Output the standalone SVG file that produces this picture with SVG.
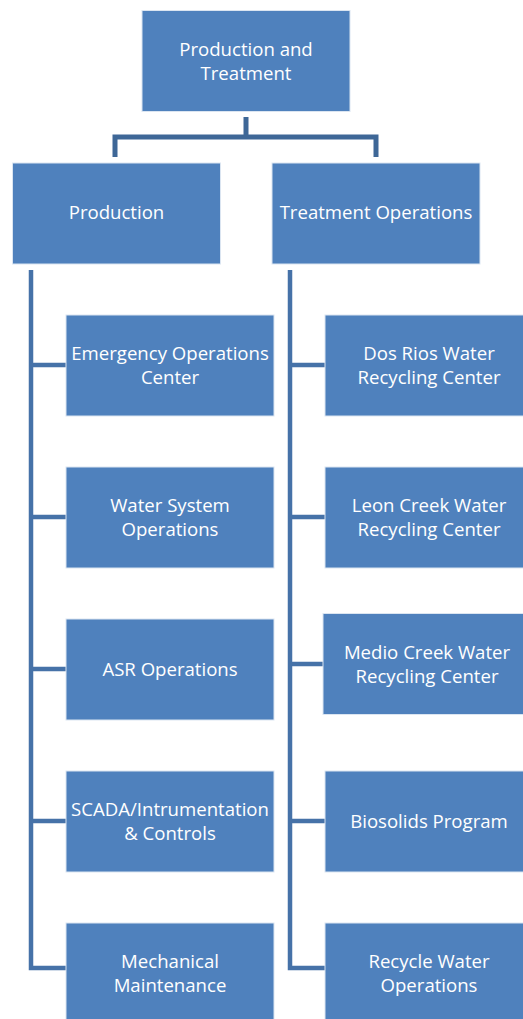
<svg xmlns="http://www.w3.org/2000/svg" width="523" height="1019" viewBox="0 0 523 1019">
<style>
.box{fill:#4f81bd;stroke:#dbe5f1;stroke-width:1}
.t{font-family:"Open Sans","Liberation Sans",sans-serif;font-size:18.6px;fill:#ffffff;text-anchor:middle}
.c{fill:none;stroke:#4672a8;stroke-width:4.5;stroke-linejoin:miter}
.ct{fill:none;stroke:#3e6797;stroke-width:5}
</style>
<rect width="523" height="1019" fill="#ffffff"/>
<g id="connectors">
<path class="ct" d="M246,117 V137 M115,157 V137 H376 V157"/>
<path class="c" d="M31,270 V968 H66 M31,365 H66 M31,517 H66 M31,669 H66 M31,821 H66"/>
<path class="c" d="M290,270 V968 H325 M290,365 H325 M290,517 H325 M290,664 H323 M290,821 H325"/>
</g>
<g id="n-root"><rect class="box" x="142" y="10.5" width="208" height="101"/><text class="t" x="246" y="56">Production and</text><text class="t" x="246" y="80">Treatment</text></g>
<g id="n-production"><rect class="box" x="12.5" y="163" width="208" height="101"/><text class="t" x="116.5" y="219">Production</text></g>
<g id="n-treatment"><rect class="box" x="272" y="163" width="208" height="101"/><text class="t" x="376" y="219">Treatment Operations</text></g>
<g id="n-eoc"><rect class="box" x="66" y="315" width="208" height="101"/><text class="t" x="170" y="360">Emergency Operations</text><text class="t" x="170" y="384">Center</text></g>
<g id="n-wso"><rect class="box" x="66" y="467" width="208" height="101"/><text class="t" x="170" y="512">Water System</text><text class="t" x="170" y="536">Operations</text></g>
<g id="n-asr"><rect class="box" x="66" y="619" width="208" height="101"/><text class="t" x="170" y="676">ASR Operations</text></g>
<g id="n-scada"><rect class="box" x="66" y="771" width="208" height="101"/><text class="t" x="170" y="816">SCADA/Intrumentation</text><text class="t" x="170" y="840">&amp; Controls</text></g>
<g id="n-mech"><rect class="box" x="66" y="923" width="208" height="101"/><text class="t" x="170" y="968">Mechanical</text><text class="t" x="170" y="992">Maintenance</text></g>
<g id="n-dosrios"><rect class="box" x="325" y="315" width="208" height="101"/><text class="t" x="429" y="360">Dos Rios Water</text><text class="t" x="429" y="384">Recycling Center</text></g>
<g id="n-leon"><rect class="box" x="325" y="467" width="208" height="101"/><text class="t" x="429" y="512">Leon Creek Water</text><text class="t" x="429" y="536">Recycling Center</text></g>
<g id="n-medio"><rect class="box" x="323" y="613.5" width="208" height="101"/><text class="t" x="427" y="659">Medio Creek Water</text><text class="t" x="427" y="683">Recycling Center</text></g>
<g id="n-biosolids"><rect class="box" x="325" y="771" width="208" height="101"/><text class="t" x="429" y="828">Biosolids Program</text></g>
<g id="n-recycle"><rect class="box" x="325" y="923" width="208" height="101"/><text class="t" x="429" y="968">Recycle Water</text><text class="t" x="429" y="992">Operations</text></g>
</svg>
